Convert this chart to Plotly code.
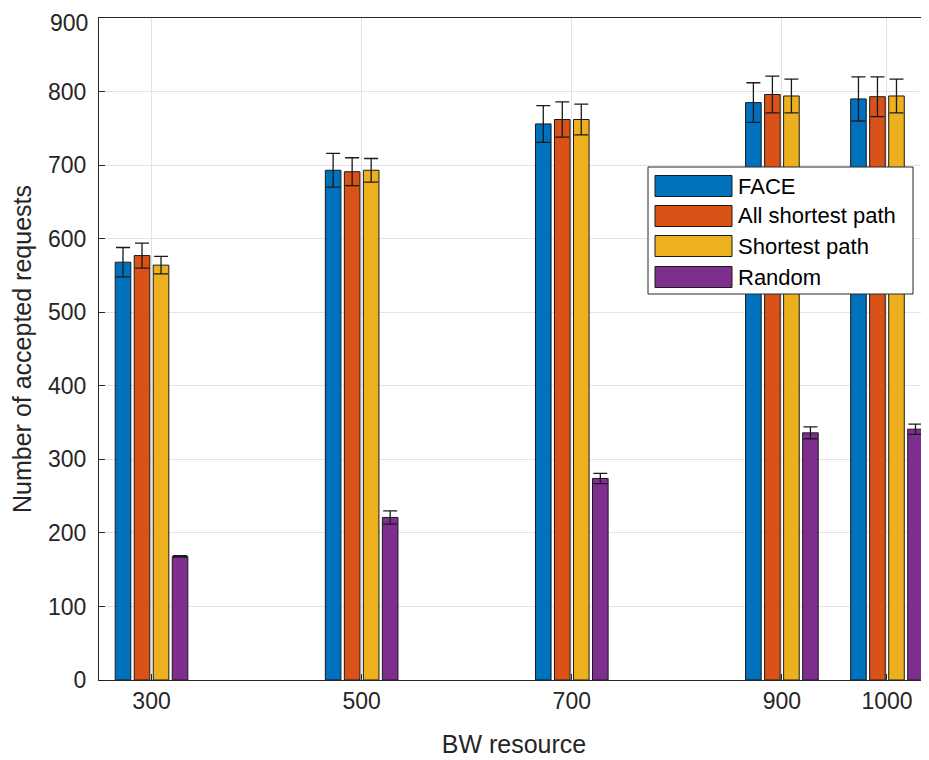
import plotly.graph_objects as go

bw = [300, 500, 700, 900, 1000]
series_names = ["FACE", "All shortest path", "Shortest path", "Random"]
face = [568, 693, 756, 785, 790]
face_err = [20, 23, 25, 27, 30]
all_sp = [577, 691, 762, 796, 793]
all_sp_err = [17, 19, 24, 25, 27]
sp = [564, 693, 762, 794, 794]
sp_err = [12, 16, 21, 23, 23]
rnd = [168, 221, 274, 336, 341]
rnd_err = [1, 9, 7, 8, 7]
y_ticks = [0, 100, 200, 300, 400, 500, 600, 700, 800, 900]

colors = ["#0072BD", "#D95319", "#EDB120", "#7E2F8E"]
values = [face, all_sp, sp, rnd]
errors = [face_err, all_sp_err, sp_err, rnd_err]

# page has an 8px body margin; compensate so plot area lands at page px 99..929 x 18..680
OFF = 8
W, H = 929 - OFF, 760 - OFF
ML, MR, MT, MB = 99 - OFF, 0, 18 - OFF, 760 - 680
PW, PH = W - ML - MR, H - MT - MB

fig = go.Figure()
for name, v, e, c in zip(series_names, values, errors, colors):
    fig.add_trace(go.Bar(
        x=bw, y=v, name=name,
        marker=dict(color=c, line=dict(color="#1a1a1a", width=1)),
        error_y=dict(type="data", array=e, visible=True, color="#1a1a1a", thickness=1.3, width=7),
        showlegend=False,
    ))

# custom MATLAB-style legend (box, wide swatches, labels); page pixel coords
def px_x(px):
    return (px - OFF - ML) / PW

def px_y(py):
    return (OFF + MT + PH - py) / PH

shapes = [dict(type="rect", xref="paper", yref="paper",
               x0=px_x(648), x1=px_x(913), y0=px_y(294), y1=px_y(167),
               fillcolor="white", line=dict(color="#262626", width=1), layer="above")]
annotations = []
row_centers = [186, 216, 246, 277]
for name, c, rc in zip(series_names, colors, row_centers):
    shapes.append(dict(type="rect", xref="paper", yref="paper",
                       x0=px_x(655), x1=px_x(732), y0=px_y(rc + 10.5), y1=px_y(rc - 10.5),
                       fillcolor=c, line=dict(color="#1a1a1a", width=1), layer="above"))
    annotations.append(dict(xref="paper", yref="paper", x=px_x(736), y=px_y(rc),
                            xanchor="left", yanchor="middle", text=name, showarrow=False,
                            font=dict(size=22, color="#000000")))

# top tick label drawn as an annotation kept inside the figure's top edge
tick_text = [str(t) for t in y_ticks]
top_label = tick_text[-1]
tick_text[-1] = ""
annotations.append(dict(xref="paper", yref="paper", x=px_x(89), y=px_y(OFF + 0.5),
                        xanchor="right", yanchor="top", text=top_label, showarrow=False,
                        font=dict(size=23, color="#262626"), borderpad=0))

font_fam = "Liberation Sans, Arial, Helvetica, sans-serif"
fig.update_layout(
    width=W, height=H,
    margin=dict(l=ML, r=MR, t=MT, b=MB),
    barmode="group", bargap=0.276, bargroupgap=0.18,
    plot_bgcolor="white", paper_bgcolor="white",
    font=dict(family=font_fam, size=23, color="#262626"),
    showlegend=False,
    shapes=shapes,
    annotations=annotations,
    xaxis=dict(
        range=[250, 1040], tickvals=bw, ticktext=[str(b) for b in bw],
        showgrid=True, gridcolor="#e3e3e3", zeroline=False,
        showline=True, linecolor="#262626", linewidth=1, mirror=True,
        ticks="inside", ticklen=6, tickcolor="#262626",
        tickfont=dict(size=23), automargin=False,
        title=dict(text="BW resource", font=dict(size=25), standoff=22),
    ),
    yaxis=dict(
        range=[0, 900], tickvals=y_ticks, ticktext=tick_text,
        showgrid=True, gridcolor="#e3e3e3", zeroline=False,
        showline=True, linecolor="#262626", linewidth=1,
        ticks="inside", ticklen=6, tickcolor="#262626",
        tickfont=dict(size=23), automargin=False, ticklabelstandoff=7,
        title=dict(text="Number of accepted requests", font=dict(size=25), standoff=10),
    ),
)

fig.write_html("out.html")
